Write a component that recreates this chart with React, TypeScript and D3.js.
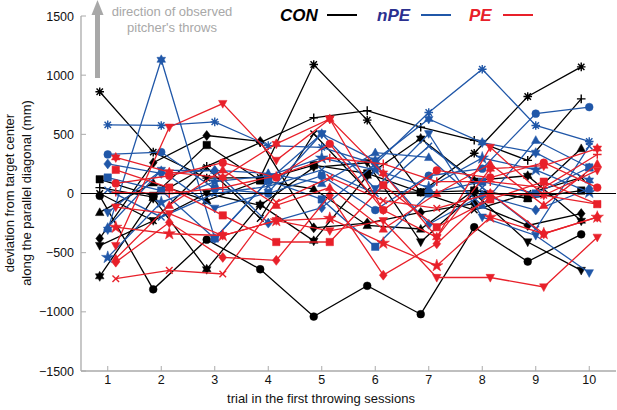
import * as d3 from 'd3';

// ---- data ----
const trials = [1, 2, 3, 4, 5, 6, 7, 8, 9, 10];
const yTicks = [-1500, -1000, -500, 0, 500, 1000, 1500];

// CON participants
const conCircle = [-20, -810, -390, -640, -1040, -780, -1020, -285, -575, -345];
const conAsterisk = [860, 350, 130, 135, 1090, 620, 10, 340, 820, 1070];
const conPlus = [50, -30, 230, 430, 640, 700, 560, 450, 280, 800];
const conSquare = [120, -20, 410, 110, 240, 170, 10, 25, -40, 25];
const conDiamond = [-380, 260, 490, 440, -290, -250, -160, -85, -270, -170];
const conTriUp = [-160, 90, -60, 110, 40, -270, -300, 30, -40, 380];
const conTriDown = [-440, -230, 0, -100, 220, 260, -410, 0, -410, -650];
const conHexagram = [-700, -40, -640, -95, -400, 150, 465, 110, 150, -230];
const conX = [0, -230, 220, -210, 505, 25, 10, -140, 0, 135];

// nPE participants
const npeAsterisk = [580, 575, 605, 405, 390, 250, 685, 1050, 575, 440];
const npeHexagram = [-305, 1130, -380, 110, 505, 280, 630, 430, 345, 110];
const npeCircle = [330, 350, 40, 0, 150, -140, 150, 210, 675, 730];
const npeDiamond = [250, 170, 195, -250, -120, 250, -260, -15, -140, 40];
const npeTriUp = [-285, 195, 195, 170, 85, 345, 305, -100, 450, 220];
const npeTriDown = [-160, 195, -125, 10, 505, 40, 505, -200, -355, -670];
const npeSquare = [135, 25, -380, 110, -50, -450, 0, 100, 0, 220];
const npeStar = [-540, -75, 100, 150, 300, 200, 50, 300, 200, 10];
const npeX = [30, -200, 0, 60, 200, 0, 400, 50, -300, 400];

// PE participants
const peTriDownA = [-440, 560, 760, 280, 630, -140, -370, 390, -15, 195];
const peTriDownB = [-115, -170, -355, -230, -315, -230, -710, -710, -790, -370];
const peX = [-720, -650, -680, -75, 135, -60, -125, 0, -15, -90];
const peDiamond = [-580, -245, -540, -565, -15, -690, -425, 0, -340, -200];
const peCircle = [85, 150, 260, 135, 420, -140, 195, 135, 260, 50];
const peSquare = [200, 50, -185, -410, -410, 70, -285, -50, 100, -90];
const peHexagram = [305, 180, 135, 420, 630, 170, -370, 210, 235, 380];
const peStar = [-285, -340, -355, -230, -210, -420, -610, -200, -340, -200];
const pePlus = [10, 0, 50, 150, 300, 250, 100, 100, 50, 330];
const peTriUp = [-550, -100, 200, -100, 50, -300, 0, 250, -100, 250];

type Series = [string, number[]];

const conSeries: Series[] = [
  ['circle', conCircle], ['asterisk', conAsterisk], ['plus', conPlus], ['square', conSquare],
  ['diamond', conDiamond], ['triUp', conTriUp], ['triDown', conTriDown], ['hexagram', conHexagram], ['x', conX],
];
const npeSeries: Series[] = [
  ['asterisk', npeAsterisk], ['hexagram', npeHexagram], ['circle', npeCircle], ['diamond', npeDiamond],
  ['triUp', npeTriUp], ['triDown', npeTriDown], ['square', npeSquare], ['star', npeStar], ['x', npeX],
];
const peSeries: Series[] = [
  ['triDown', peTriDownA], ['triDown', peTriDownB], ['x', peX], ['diamond', peDiamond], ['circle', peCircle],
  ['square', peSquare], ['hexagram', peHexagram], ['star', peStar], ['plus', pePlus], ['triUp', peTriUp],
];

const groups = [
  { name: 'CON', color: '#000000', offset: -0.15, series: conSeries },
  { name: 'nPE', color: '#2057a8', offset: 0, series: npeSeries },
  { name: 'PE', color: '#e8202a', offset: 0.15, series: peSeries },
];

const W = 617;
const H = 410;
const FONT = '"Liberation Sans", Arial, sans-serif';
const AXIS = '#aaaaaa';

const x = d3.scaleLinear().domain([0.5, 10.5]).range([81, 616]);
const y = d3.scaleLinear().domain([-1500, 1500]).range([371, 16]);

const stroked = new Set(['plus', 'x', 'asterisk']);

function markerPath(type: string): string {
  const s = 3.7;
  switch (type) {
    case 'circle':
      return d3.symbol(d3.symbolCircle, Math.PI * 3.9 * 3.9)() as string;
    case 'square':
      return `M${-s},${-s}H${s}V${s}H${-s}Z`;
    case 'diamond':
      return `M0,${-s * 1.35}L${s * 1.05},0L0,${s * 1.35}L${-s * 1.05},0Z`;
    case 'triUp':
      return `M0,${-s * 1.25}L${s * 1.15},${s * 0.85}L${-s * 1.15},${s * 0.85}Z`;
    case 'triDown':
      return `M0,${s * 1.25}L${s * 1.15},${-s * 0.85}L${-s * 1.15},${-s * 0.85}Z`;
    case 'star':
      return d3.symbol(d3.symbolStar, 48)() as string;
    case 'hexagram': {
      const R = 5;
      const pts = d3.range(12).map(k => {
        const a = (k * Math.PI) / 6 - Math.PI / 2;
        const r = k % 2 === 0 ? R : R / Math.sqrt(3);
        return [r * Math.cos(a), r * Math.sin(a)];
      });
      return 'M' + pts.map(p => p.join(',')).join('L') + 'Z';
    }
    case 'plus':
      return `M-4.3,0H4.3M0,-4.3V4.3`;
    case 'x':
      return `M-3.3,-3.3L3.3,3.3M-3.3,3.3L3.3,-3.3`;
    case 'asterisk':
      return `M-4.3,0H4.3M0,-4.3V4.3M-3.2,-3.2L3.2,3.2M-3.2,3.2L3.2,-3.2`;
    default:
      return '';
  }
}

const line = d3.line<[number, number]>().x(d => d[0]).y(d => d[1]);

export default function App() {
  return (
    <div style={{ position: 'fixed', left: 0, top: 0 }}>
      <svg width={W} height={H} style={{ display: 'block', background: '#fff' }} fontFamily={FONT}>
        {/* arrow */}
        <rect x={95} y={14} width={5} height={64} fill="#a8a8a8" />
        <path d="M91.5,15L97.5,0L103.5,15Z" fill="#a8a8a8" />
        <text x={172} y={16} textAnchor="middle" fontSize={13} fill="#a8a8a8">direction of observed</text>
        <text x={172} y={32} textAnchor="middle" fontSize={13} fill="#a8a8a8">pitcher's throws</text>

        {/* legend */}
        <text x={280} y={21} fontSize={17} fontWeight="bold" fontStyle="italic" fill="#000">CON</text>
        <line x1={327} x2={357} y1={15} y2={15} stroke="#000" strokeWidth={2} />
        <text x={377} y={21} fontSize={17} fontWeight="bold" fontStyle="italic" fill="#2b3190">nPE</text>
        <line x1={421} x2={451} y1={15} y2={15} stroke="#2057a8" strokeWidth={2} />
        <text x={469} y={21} fontSize={17} fontWeight="bold" fontStyle="italic" fill="#e8202a">PE</text>
        <line x1={503} x2={533} y1={15} y2={15} stroke="#e8202a" strokeWidth={2} />

        {/* axes */}
        <line x1={81} x2={81} y1={y(1500)} y2={y(-1500)} stroke={AXIS} strokeWidth={1.3} />
        <line x1={81} x2={616} y1={y(-1500)} y2={y(-1500)} stroke={AXIS} strokeWidth={1.3} />
        {yTicks.map(t => (
          <g key={`y${t}`}>
            <line x1={81} x2={86} y1={y(t)} y2={y(t)} stroke={AXIS} strokeWidth={1} />
            <text x={74} y={y(t) + 4.5} textAnchor="end" fontSize={12.5} fill="#111">
              {d3.format('')(t).replace('-', '\u2212')}
            </text>
          </g>
        ))}
        {trials.map(t => (
          <g key={`x${t}`}>
            <line x1={x(t)} x2={x(t)} y1={y(-1500)} y2={y(-1500) - 5} stroke={AXIS} strokeWidth={1} />
            <text x={x(t)} y={384} textAnchor="middle" fontSize={12.5} fill="#111">{t}</text>
          </g>
        ))}
        <text transform="translate(14,193) rotate(-90)" textAnchor="middle" fontSize={13} fill="#111">
          deviation from target center
        </text>
        <text transform="translate(31,193) rotate(-90)" textAnchor="middle" fontSize={13} fill="#111">
          along the parallel diagonal (mm)
        </text>
        <text x={321} y={403} textAnchor="middle" fontSize={13} fill="#111">trial in the first throwing sessions</text>

        {/* series */}
        {groups.map(g => (
          <g key={g.name}>
            {g.series.map(([m, vals], i) => {
              const pts = vals.map((v, k) => [x(trials[k] + g.offset), y(v)] as [number, number]);
              return (
                <g key={i}>
                  <path d={line(pts) as string} fill="none" stroke={g.color} strokeWidth={1.3} />
                  {pts.map((p, k) => (
                    <path
                      key={k}
                      d={markerPath(m)}
                      transform={`translate(${p[0]},${p[1]})`}
                      fill={stroked.has(m) ? 'none' : g.color}
                      stroke={g.color}
                      strokeWidth={stroked.has(m) ? 1.4 : 0.5}
                    />
                  ))}
                </g>
              );
            })}
          </g>
        ))}

        {/* zero line */}
        <line x1={81} x2={616} y1={y(0)} y2={y(0)} stroke="#000" strokeWidth={1} />
      </svg>
    </div>
  );
}
